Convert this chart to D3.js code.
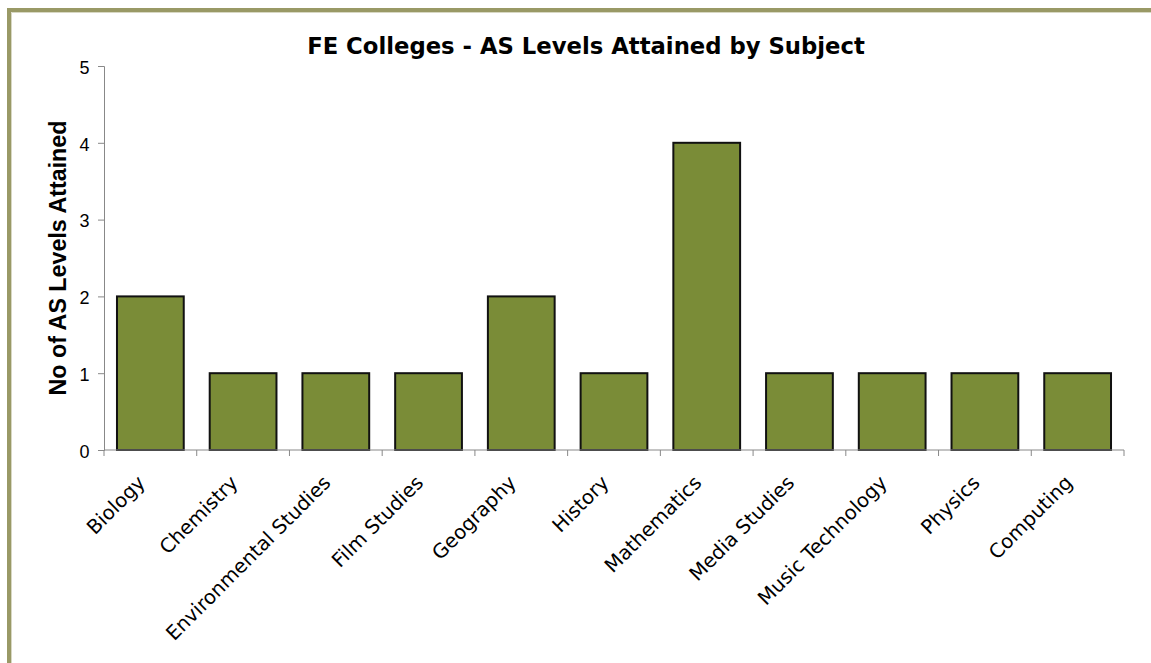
<!DOCTYPE html>
<html><head><meta charset="utf-8">
<script src="https://cdn.jsdelivr.net/npm/d3@7"></script>
<style>body{margin:0;background:#fff;}svg{display:block;}</style>
</head><body>
<svg id="c" width="1151" height="663"></svg>
<script>
const categories = ["Biology","Chemistry","Environmental Studies","Film Studies","Geography","History","Mathematics","Media Studies","Music Technology","Physics","Computing"];
const values = [2,1,1,1,2,1,4,1,1,1,1];
const yTicks = [0,1,2,3,4,5];
const titleText = "FE Colleges - AS Levels Attained by Subject";
const yTitle = "No of AS Levels Attained";

const svg = d3.select("#c");
svg.append("path").attr("d","M9,663 L9,10 L1151,10").attr("fill","none").attr("stroke","#999966").attr("stroke-width",4);
svg.append("path").attr("d","M11.5,663 L11.5,12.5 L1151,12.5").attr("fill","none").attr("stroke","#d8d8c4").attr("stroke-width",1);

const pL=104, pR=1124, pT=66, pB=450;
const x = d3.scaleBand().domain(categories).range([pL,pR]).paddingInner(0.28).paddingOuter(0.14);
const y = d3.scaleLinear().domain([0,5]).range([pB,pT]);

function fit(sel, target){
  const n = sel.node(); const fs = +sel.attr("font-size");
  const len = n.getComputedTextLength();
  if (len>0) sel.attr("font-size", fs*target/len);
}

svg.append("g").selectAll("rect").data(values).join("rect")
  .attr("x",(d,i)=>x(categories[i])).attr("width",x.bandwidth())
  .attr("y",d=>y(d)).attr("height",d=>y(0)-y(d))
  .attr("fill","#7a8c37").attr("stroke","#111").attr("stroke-width",2);

const ya = svg.append("g").attr("transform",`translate(${pL},0)`)
  .call(d3.axisLeft(y).tickValues(yTicks).tickSize(6).tickPadding(8.5).tickFormat(d3.format("d")));
ya.select(".domain").attr("stroke","#888");
ya.selectAll(".tick line").attr("stroke","#888");
ya.selectAll(".tick text").attr("font-family","Liberation Sans, Arial, sans-serif").attr("font-size",18).attr("fill","#000").attr("dy","0.4em");

const step = (pR-pL)/categories.length;
const xa = svg.append("g").attr("transform",`translate(0,${pB})`);
xa.append("line").attr("x1",pL).attr("x2",pR).attr("stroke","#888");
xa.selectAll("line.tk").data(d3.range(categories.length+1)).join("line").attr("class","tk")
  .attr("x1",i=>pL+i*step).attr("x2",i=>pL+i*step).attr("y1",0).attr("y2",6).attr("stroke","#888");
const xl = xa.selectAll("text").data(categories).join("text")
  .attr("transform",d=>`translate(${x(d)+x.bandwidth()/2-4},34) rotate(-45)`)
  .attr("text-anchor","end")
  .attr("font-family","DejaVu Sans, sans-serif").attr("font-size",16).attr("fill","#000")
  .text(d=>d);
{
  const ref = xl.filter(d=>d==="Environmental Studies");
  const len = ref.node().getComputedTextLength();
  xl.attr("font-size", 16*223/len);
}

const t = svg.append("text").attr("x",586).attr("y",54).attr("text-anchor","middle")
  .attr("font-family","DejaVu Sans, sans-serif").attr("font-weight","bold").attr("font-size",20).attr("fill","#000")
  .text(titleText);
fit(t, 558);

const yt = svg.append("text").attr("transform","translate(66,258) rotate(-90)").attr("text-anchor","middle")
  .attr("font-family","Liberation Sans, Arial, sans-serif").attr("font-weight","bold").attr("font-size",18).attr("fill","#000")
  .text(yTitle);
fit(yt, 275);
</script>
</body></html>
